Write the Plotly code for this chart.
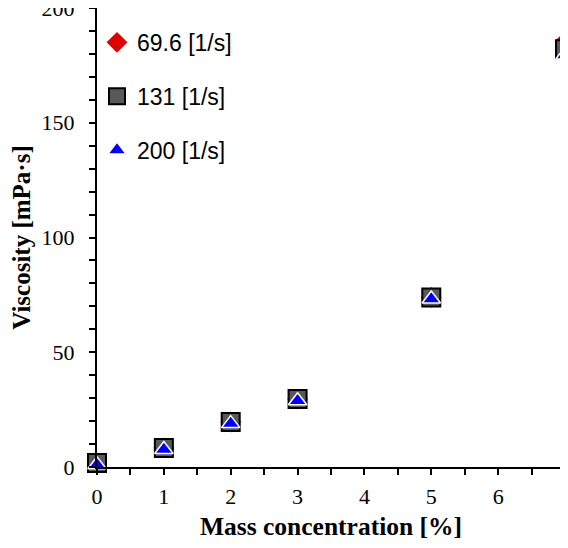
import plotly.graph_objects as go

conc = [0, 1, 2, 3, 5, 7]
visc_69 = [1.7, 8.3, 19.6, 29.6, 73.9, 185.5]
visc_131 = [1.7, 8.3, 19.6, 29.6, 73.9, 182.0]
visc_200 = [1.0, 7.6, 18.9, 28.9, 73.2, 179.5]
names = ["69.6 [1/s]", "131 [1/s]", "200 [1/s]"]

fig = go.Figure()
fig.add_trace(go.Scatter(x=conc, y=visc_69, mode="markers", name=names[0], legendgroup="a",
                         marker=dict(symbol="diamond", size=16, color="#e00000", line=dict(width=0))))
fig.add_trace(go.Scatter(x=conc, y=visc_131, mode="markers", name=names[1], legendgroup="b",
                         marker=dict(symbol="square", size=18, color="#595959", line=dict(width=2, color="black"))))
fig.add_trace(go.Scatter(x=conc, y=visc_200, mode="markers", name=names[2], legendgroup="c",
                         marker=dict(symbol="triangle-up", size=16, color="#0000ff", line=dict(width=1.5, color="white"))))
for t in fig.data:
    t.cliponaxis = False

axis_common = dict(showline=True, linecolor="black", linewidth=2, ticks="outside", ticklen=6,
                   tickwidth=2, tickcolor="black", showgrid=False, zeroline=False, automargin=False,
                   ticklabeloverflow="allow",
                   tickfont=dict(family="Liberation Serif", size=22, color="black"))
fig.update_xaxes(range=[0, 7], dtick=1, tick0=0, ticklabelstandoff=3,
                 minor=dict(dtick=0.5, ticks="outside", ticklen=6, tickwidth=2, tickcolor="black"),
                 title=dict(text="Mass concentration [%]", font=dict(family="Liberation Serif", size=25.5, color="black", weight="bold"), standoff=9),
                 **axis_common)
fig.update_yaxes(range=[0, 200], dtick=50, tick0=0, ticklabelstandoff=10,
                 minor=dict(dtick=10, ticks="outside", ticklen=6, tickwidth=2, tickcolor="black"),
                 title=dict(text="Viscosity [mPa·s]", font=dict(family="Liberation Serif", size=25, color="black", weight="bold"), standoff=6),
                 **axis_common)
fig.update_layout(width=568, height=548, margin=dict(l=89, r=11, t=0, b=89, autoexpand=False),
                  plot_bgcolor="white", paper_bgcolor="white",
                  legend=dict(x=0.0, y=0.972, xanchor="left", yanchor="top", bgcolor="rgba(0,0,0,0)",
                              font=dict(family="Liberation Sans", size=23, color="black"),
                              tracegroupgap=21, itemwidth=30),
                  showlegend=True)
fig.write_html("out.html")
